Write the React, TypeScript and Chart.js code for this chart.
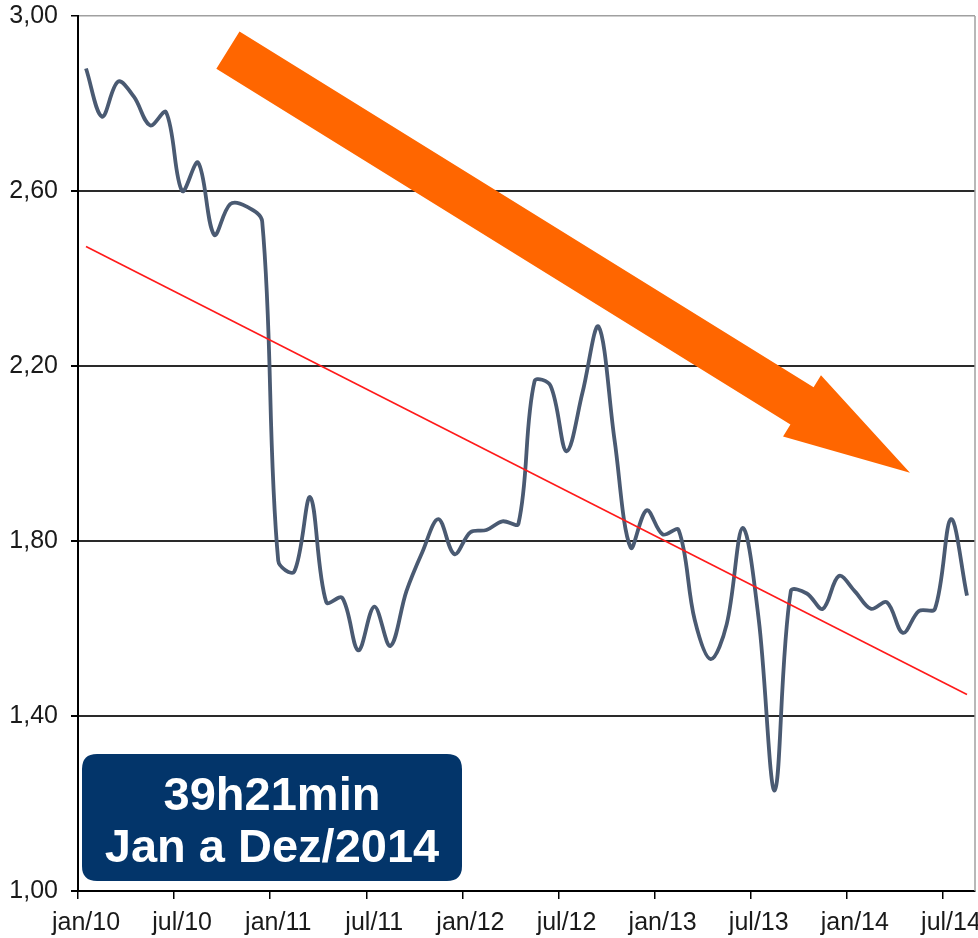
import React, { useEffect, useRef } from 'react';
import { Chart, registerables } from 'chart.js';

Chart.register(...registerables);

// Monthly values, jan/10 .. ago/14 (56 months)
const monthlyValues: number[] = [
  2.88, 2.77, 2.85, 2.815, 2.75, 2.78, 2.6, 2.665, 2.5, 2.57, 2.565, 2.53,
  1.755, 1.73, 1.9, 1.66, 1.67, 1.55, 1.65, 1.56, 1.685, 1.775, 1.85, 1.77,
  1.82, 1.825, 1.845, 1.84, 2.165, 2.155, 2.005, 2.14, 2.29, 2.03, 1.785, 1.87,
  1.815, 1.825, 1.62, 1.53, 1.61, 1.83, 1.62, 1.23, 1.685, 1.68, 1.645, 1.72,
  1.685, 1.645, 1.66, 1.59, 1.64, 1.645, 1.85, 1.675,
];

// Linear trend line: value at first and last month
const trendEnds: number[] = [2.473, 1.449];

const xTickLabels: string[] = [
  'jan/10', 'jul/10', 'jan/11', 'jul/11', 'jan/12',
  'jul/12', 'jan/13', 'jul/13', 'jan/14', 'jul/14',
];
const monthsPerTick = 6;
const yTickValues: number[] = [1.0, 1.4, 1.8, 2.2, 2.6, 3.0];

const boxLines: string[] = ['39h21min', 'Jan a Dez/2014'];

// Decorative arrow, in data coordinates (month index, value)
const arrowTail: number[] = [9.36, 2.922];
const arrowTip: number[] = [51.94, 1.956];

const FONT = "'Liberation Sans', Arial, sans-serif";

const decorPlugin = {
  id: 'decor',
  afterDatasetsDraw(chart: any) {
    const { ctx, scales, chartArea } = chart;
    const xs = scales.x;
    const ys = scales.y;
    ctx.save();
    // right border
    ctx.strokeStyle = '#a0a0a0';
    ctx.lineWidth = 1.5;
    ctx.beginPath();
    ctx.moveTo(chartArea.right, chartArea.top);
    ctx.lineTo(chartArea.right, chartArea.bottom);
    ctx.stroke();

    // orange arrow
    const x0 = xs.getPixelForValue(arrowTail[0]);
    const y0 = ys.getPixelForValue(arrowTail[1]);
    const x1 = xs.getPixelForValue(arrowTip[0]);
    const y1 = ys.getPixelForValue(arrowTip[1]);
    const dx = x1 - x0;
    const dy = y1 - y0;
    const L = Math.hypot(dx, dy);
    const ux = dx / L;
    const uy = dy / L;
    const px = -uy;
    const py = ux;
    const sw = 22;
    const hw = 36;
    const hl = 127;
    const bx = x1 - ux * hl;
    const by = y1 - uy * hl;
    ctx.fillStyle = '#ff6600';
    ctx.beginPath();
    ctx.moveTo(x0 + px * sw, y0 + py * sw);
    ctx.lineTo(bx + px * sw, by + py * sw);
    ctx.lineTo(bx + px * hw, by + py * hw);
    ctx.lineTo(x1, y1);
    ctx.lineTo(bx - px * hw, by - py * hw);
    ctx.lineTo(bx - px * sw, by - py * sw);
    ctx.lineTo(x0 - px * sw, y0 - py * sw);
    ctx.closePath();
    ctx.fill();

    // info box
    const bxL = chartArea.left + 4;
    const bxT = chartArea.bottom - 137;
    const bw = 380;
    const bh = 127;
    const r = 15;
    ctx.fillStyle = '#03356a';
    ctx.beginPath();
    ctx.moveTo(bxL + r, bxT);
    ctx.lineTo(bxL + bw - r, bxT);
    ctx.quadraticCurveTo(bxL + bw, bxT, bxL + bw, bxT + r);
    ctx.lineTo(bxL + bw, bxT + bh - r);
    ctx.quadraticCurveTo(bxL + bw, bxT + bh, bxL + bw - r, bxT + bh);
    ctx.lineTo(bxL + r, bxT + bh);
    ctx.quadraticCurveTo(bxL, bxT + bh, bxL, bxT + bh - r);
    ctx.lineTo(bxL, bxT + r);
    ctx.quadraticCurveTo(bxL, bxT, bxL + r, bxT);
    ctx.closePath();
    ctx.fill();

    ctx.fillStyle = '#ffffff';
    ctx.font = `bold 47px ${FONT}`;
    ctx.textAlign = 'center';
    ctx.textBaseline = 'alphabetic';
    const cx = bxL + bw / 2;
    ctx.fillText(boxLines[0], cx, bxT + 56);
    ctx.fillText(boxLines[1], cx, bxT + 108);
    ctx.restore();
  },
};

export default function App() {
  const canvasRef = useRef<HTMLCanvasElement | null>(null);

  useEffect(() => {
    if (!canvasRef.current) return;
    const chart = new Chart(canvasRef.current, {
      type: 'line',
      data: {
        datasets: [
          {
            label: 'Tendência',
            data: [
              { x: 0.5, y: trendEnds[0] },
              { x: monthlyValues.length - 0.5, y: trendEnds[1] },
            ],
            borderColor: '#ff1a1a',
            borderWidth: 1.6,
            pointRadius: 0,
            tension: 0,
          },
          {
            label: 'Valor',
            data: monthlyValues.map((v, i) => ({ x: i + 0.5, y: v })),
            borderColor: '#4a5a72',
            borderWidth: 3.8,
            pointRadius: 0,
            tension: 0.35,
          },
        ],
      },
      options: {
        responsive: false,
        animation: false,
        layout: { padding: { top: 16, right: 3, left: 0, bottom: 0 } },
        plugins: {
          legend: { display: false },
          tooltip: { enabled: false },
        },
        scales: {
          x: {
            type: 'linear',
            min: 0,
            max: monthlyValues.length,
            afterBuildTicks: (scale: any) => {
              scale.ticks = xTickLabels.map((_, i) => ({ value: i * monthsPerTick }));
            },
            afterFit: (scale: any) => {
              scale.height = 47;
              scale.paddingLeft = 0;
              scale.paddingRight = 0;
            },
            ticks: {
              autoSkip: false,
              maxRotation: 0,
              labelOffset: 8,
              padding: 9,
              color: '#1a1a1a',
              font: { family: FONT, size: 25 },
              callback: (v: any) => xTickLabels[Math.round(v / monthsPerTick)] ?? '',
            },
            grid: {
              drawOnChartArea: false,
              drawTicks: true,
              tickLength: 8,
              tickColor: '#000',
              lineWidth: 1.5,
            },
            border: { display: true, color: '#000', width: 2 },
          },
          y: {
            type: 'linear',
            min: 1,
            max: 3,
            afterBuildTicks: (scale: any) => {
              scale.ticks = yTickValues.map((v) => ({ value: v }));
            },
            afterFit: (scale: any) => {
              scale.width = 78;
              scale.paddingTop = 0;
              scale.paddingBottom = 0;
            },
            ticks: {
              padding: 13,
              color: '#1a1a1a',
              font: { family: FONT, size: 25 },
              callback: (v: any) => Number(v).toFixed(2).replace('.', ','),
            },
            grid: {
              color: (ctx: any) => {
                const v = ctx.tick ? ctx.tick.value : 0;
                if (Math.abs(v - 3) < 1e-6) return '#a0a0a0';
                if (Math.abs(v - 1) < 1e-6) return 'rgba(0,0,0,0)';
                return '#2a2a2a';
              },
              lineWidth: (ctx: any) => {
                const v = ctx.tick ? ctx.tick.value : 0;
                return Math.abs(v - 3) < 1e-6 ? 1.5 : 2;
              },
              tickColor: '#000',
              tickLength: 7,
              drawTicks: true,
            },
            border: { display: true, color: '#000', width: 2 },
          },
        },
      },
      plugins: [decorPlugin],
    });
    return () => chart.destroy();
  }, []);

  return (
    <div style={{ position: 'absolute', left: 0, top: 0, width: 978, height: 938, background: '#fff' }}>
      <canvas ref={canvasRef} width={978} height={938} />
    </div>
  );
}
